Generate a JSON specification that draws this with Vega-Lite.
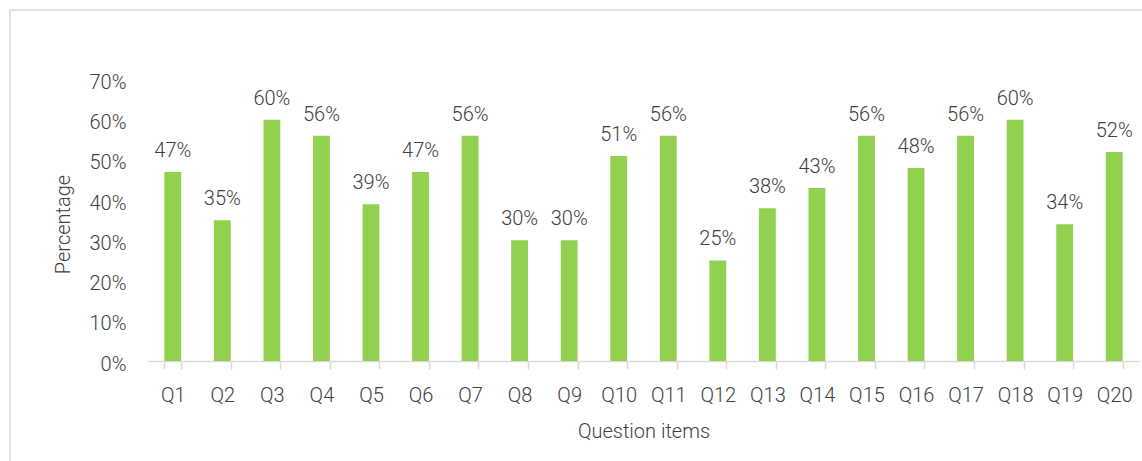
{
  "$schema": "https://vega.github.io/schema/vega-lite/v6.json",
  "autosize": "none",
  "width": 1136,
  "height": 456,
  "padding": {"left": 10, "top": 10, "right": 0, "bottom": 0},
  "background": "white",
  "config": {
    "view": {"stroke": "#d9d9d9", "strokeWidth": 1.5},
    "font": "Roboto",
    "axis": {"labelFont": "Roboto", "titleFont": "Roboto", "labelFontWeight": 300, "titleFontWeight": 300, "labelColor": "#404040", "titleColor": "#404040", "labelFontSize": 20, "titleFontSize": 20}
  },
  "data": {
    "values": [
      {"q": "Q1", "p": 0.47},
      {"q": "Q2", "p": 0.35},
      {"q": "Q3", "p": 0.60},
      {"q": "Q4", "p": 0.56},
      {"q": "Q5", "p": 0.39},
      {"q": "Q6", "p": 0.47},
      {"q": "Q7", "p": 0.56},
      {"q": "Q8", "p": 0.30},
      {"q": "Q9", "p": 0.30},
      {"q": "Q10", "p": 0.51},
      {"q": "Q11", "p": 0.56},
      {"q": "Q12", "p": 0.25},
      {"q": "Q13", "p": 0.38},
      {"q": "Q14", "p": 0.43},
      {"q": "Q15", "p": 0.56},
      {"q": "Q16", "p": 0.48},
      {"q": "Q17", "p": 0.56},
      {"q": "Q18", "p": 0.60},
      {"q": "Q19", "p": 0.34},
      {"q": "Q20", "p": 0.52}
    ]
  },
  "encoding": {
    "x": {
      "field": "q", "type": "nominal", "sort": null,
      "scale": {"range": [138, 1129], "paddingInner": 0.66, "paddingOuter": 0.33},
      "axis": {
        "title": "Question items", "labelAngle": 0, "offset": -105,
        "domainColor": "#d9d9d9", "domainWidth": 1.5,
        "ticks": true, "tickBand": "extent", "tickColor": "#d9d9d9", "tickWidth": 1.5, "tickSize": 8,
        "labelPadding": 16, "labelBaseline": "top",
        "titleY": 76, "titleBaseline": "alphabetic"
      }
    },
    "y": {
      "field": "p", "type": "quantitative",
      "scale": {"domain": [0, 0.7], "range": [351, 69.5], "nice": false, "zero": true},
      "axis": {
        "title": "Percentage", "offset": -138, "domain": false, "ticks": false, "grid": false,
        "values": [0, 0.1, 0.2, 0.3, 0.4, 0.5, 0.6, 0.7], "format": ".0%",
        "labelPadding": 22, "labelOffset": 3, "labelBaseline": "middle",
        "titleAngle": -90, "titleX": -85, "titleY": 214, "titleAlign": "center", "titleBaseline": "middle"
      }
    }
  },
  "layer": [
    {"mark": {"type": "bar", "color": "#92D050"}},
    {
      "mark": {"type": "text", "baseline": "alphabetic", "dy": -15, "fontSize": 20, "font": "Roboto", "fontWeight": 300, "color": "#404040"},
      "encoding": {"text": {"field": "p", "type": "quantitative", "format": ".0%"}}
    }
  ]
}
